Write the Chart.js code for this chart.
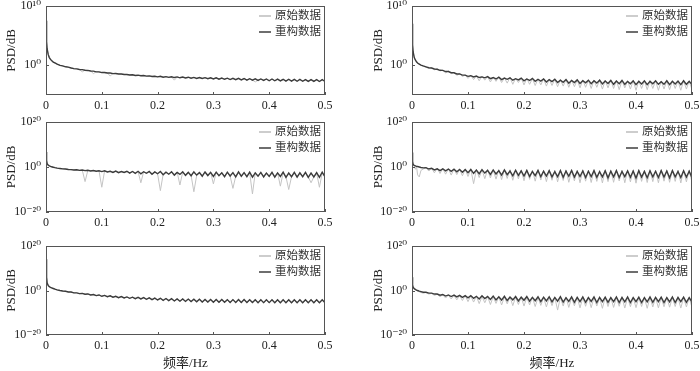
<!DOCTYPE html>
<html>
<head>
<meta charset="utf-8">
<script src="https://cdn.jsdelivr.net/npm/chart.js@4.4.0/dist/chart.umd.min.js"></script>
<style>
  html, body { margin: 0; padding: 0; background: #fff; }
  #wrap { position: relative; width: 700px; height: 371px; overflow: hidden; }
  #wrap canvas { position: absolute; }
</style>
</head>
<body>
<div id="wrap"></div>
<script>
// frequency bins (Hz)
const freq = [0, 0.001, 0.002, 0.004, 0.006, 0.008, 0.01, 0.013, 0.016, 0.02,
  0.025, 0.03, 0.035, 0.04, 0.045, 0.05,
  0.055, 0.06, 0.065, 0.07, 0.075, 0.08, 0.085, 0.09, 0.095, 0.1,
  0.105, 0.11, 0.115, 0.12, 0.125, 0.13, 0.135, 0.14, 0.145, 0.15,
  0.155, 0.16, 0.165, 0.17, 0.175, 0.18, 0.185, 0.19, 0.195, 0.2,
  0.205, 0.21, 0.215, 0.22, 0.225, 0.23, 0.235, 0.24, 0.245, 0.25,
  0.255, 0.26, 0.265, 0.27, 0.275, 0.28, 0.285, 0.29, 0.295, 0.3,
  0.305, 0.31, 0.315, 0.32, 0.325, 0.33, 0.335, 0.34, 0.345, 0.35,
  0.355, 0.36, 0.365, 0.37, 0.375, 0.38, 0.385, 0.39, 0.395, 0.4,
  0.405, 0.41, 0.415, 0.42, 0.425, 0.43, 0.435, 0.44, 0.445, 0.45,
  0.455, 0.46, 0.465, 0.47, 0.475, 0.48, 0.485, 0.49, 0.495, 0.5];

const xTickValues = [0, 0.1, 0.2, 0.3, 0.4, 0.5];
const xTickLabels = ['0', '0.1', '0.2', '0.3', '0.4', '0.5'];
const seriesNames = ['原始数据', '重构数据'];

const yTicksTop = [1, 1e10];
const yTickLabelsTop = ['10⁰', '10¹⁰'];
const yTicksLow = [1e-20, 1, 1e20];
const yTickLabelsLow = ['10⁻²⁰', '10⁰', '10²⁰'];

// PSD values as powers of ten
const p1Orig = [7.6, 4.1, 2.7, 1.9, 1.2, 1.05, 0.75, 0.6, 0.35, 0.2,
  0.05, -0.15, -0.2, -0.35, -0.4, -0.6,
  -0.58, -0.72, -1.1, -0.8, -0.88, -0.94, -1.4, -1.05, -1.12, -1.2,
  -1.25, -1.28, -1.8, -1.38, -1.4, -1.45, -1.48, -1.52, -1.56, -1.6,
  -1.62, -1.68, -1.7, -1.74, -1.74, -1.8, -1.8, -1.86, -1.86, -1.92,
  -1.9, -1.97, -1.93, -2.0, -1.96, -2.5, -1.98, -2.06, -2.02, -2.1,
  -2.05, -2.14, -2.06, -2.18, -2.08, -2.2, -2.1, -2.22, -2.13, -2.26,
  -2.14, -2.3, -2.18, -2.32, -2.2, -2.36, -2.22, -2.4, -2.24, -2.42,
  -2.25, -2.46, -2.28, -2.48, -2.8, -2.5, -2.32, -2.52, -2.33, -2.56,
  -2.34, -2.58, -2.36, -2.6, -2.38, -2.62, -2.38, -2.64, -2.4, -2.65,
  -2.41, -2.66, -2.42, -2.68, -2.43, -2.68, -2.44, -2.7, -2.44, -2.7];
const p1Recon = [7.5, 4.0, 2.8, 1.8, 1.3, 1.0, 0.8, 0.55, 0.4, 0.2,
  0.0, -0.1, -0.25, -0.3, -0.45, -0.55,
  -0.6, -0.7, -0.72, -0.83, -0.86, -0.96, -0.98, -1.1, -1.1, -1.22,
  -1.2, -1.3, -1.3, -1.4, -1.38, -1.47, -1.46, -1.55, -1.54, -1.63,
  -1.58, -1.7, -1.66, -1.76, -1.72, -1.82, -1.78, -1.88, -1.84, -1.95,
  -1.85, -2.0, -1.9, -2.03, -1.93, -2.06, -1.95, -2.1, -1.98, -2.12,
  -2.0, -2.17, -2.03, -2.2, -2.05, -2.22, -2.08, -2.25, -2.1, -2.3,
  -2.1, -2.33, -2.15, -2.35, -2.17, -2.4, -2.2, -2.42, -2.2, -2.45,
  -2.22, -2.5, -2.25, -2.5, -2.27, -2.55, -2.3, -2.55, -2.3, -2.6,
  -2.3, -2.6, -2.33, -2.62, -2.35, -2.65, -2.35, -2.65, -2.37, -2.68,
  -2.38, -2.68, -2.4, -2.7, -2.4, -2.7, -2.42, -2.72, -2.42, -2.72];

const p2Orig = [7.1, 3.4, 2.2, 1.4, 0.8, 0.7, 0.3, 0.25, 0.0, -0.15,
  -0.3, -0.5, -0.4, -0.75, -0.6, -0.95,
  -0.8, -1.3, -0.95, -1.4, -1.2, -1.7, -1.35, -1.9, -1.6, -2.2,
  -1.7, -2.4, -1.8, -2.6, -1.85, -2.5, -1.9, -2.8, -2.0, -2.7,
  -2.0, -2.9, -2.1, -3.0, -2.05, -3.2, -2.2, -2.9, -2.15, -3.3,
  -2.2, -3.2, -2.25, -3.4, -2.3, -3.3, -2.25, -3.5, -2.35, -3.4,
  -2.35, -3.6, -2.4, -3.5, -2.4, -3.7, -2.45, -3.6, -2.45, -3.8,
  -2.45, -3.7, -2.5, -3.9, -2.5, -3.7, -2.5, -4.0, -2.55, -3.8,
  -2.5, -3.9, -2.55, -4.1, -2.55, -3.8, -2.6, -4.0, -2.55, -4.2,
  -2.6, -3.9, -2.6, -4.1, -2.6, -3.9, -2.6, -4.2, -2.65, -4.0,
  -2.6, -4.1, -2.6, -3.9, -2.65, -4.2, -2.6, -4.0, -2.65, -4.1];
const p2Recon = [7.0, 3.5, 2.3, 1.3, 0.9, 0.6, 0.4, 0.2, 0.05, -0.1,
  -0.25, -0.4, -0.45, -0.62, -0.66, -0.84,
  -0.85, -1.05, -1.05, -1.25, -1.25, -1.45, -1.45, -1.65, -1.65, -1.85,
  -1.75, -1.95, -1.8, -2.05, -1.95, -2.1, -1.9, -2.25, -2.05, -2.3,
  -2.0, -2.4, -2.15, -2.35, -2.1, -2.5, -2.25, -2.45, -2.15, -2.6,
  -2.3, -2.55, -2.2, -2.7, -2.35, -2.65, -2.3, -2.8, -2.4, -2.75,
  -2.35, -2.9, -2.5, -2.85, -2.4, -3.0, -2.55, -2.9, -2.45, -3.05,
  -2.6, -2.95, -2.5, -3.1, -2.6, -3.0, -2.5, -3.15, -2.65, -3.05,
  -2.55, -3.2, -2.65, -3.1, -2.55, -3.2, -2.7, -3.1, -2.6, -3.25,
  -2.7, -3.15, -2.6, -3.25, -2.7, -3.1, -2.6, -3.2, -2.75, -3.2,
  -2.6, -3.25, -2.7, -3.15, -2.65, -3.25, -2.6, -3.2, -2.7, -3.25];

const p3Orig = [6.8, 2.8, 1.6, 0.7, 0.6, 0.2, 0.15, -0.2, -0.25, -0.55,
  -0.7, -0.8, -0.95, -1.05, -1.2, -1.3,
  -1.25, -1.45, -1.4, -6.5, -1.5, -1.7, -1.6, -1.85, -1.7, -9.0,
  -1.75, -2.15, -1.85, -2.25, -1.9, -2.35, -1.95, -2.45, -2.0, -2.55,
  -1.95, -2.65, -2.05, -7.0, -2.05, -2.85, -2.1, -2.95, -2.1, -3.05,
  -10.5, -3.15, -2.15, -3.25, -2.2, -3.35, -2.2, -8.0, -2.25, -3.55,
  -2.25, -3.65, -11.0, -3.75, -2.3, -3.8, -2.35, -3.85, -2.35, -7.5,
  -2.35, -3.95, -2.4, -4.0, -2.4, -4.05, -9.5, -4.05, -2.45, -4.1,
  -2.45, -4.15, -2.5, -12.0, -2.5, -4.2, -2.5, -4.2, -2.55, -4.25,
  -2.55, -4.25, -2.55, -8.5, -2.55, -4.25, -10.0, -4.35, -2.55, -4.3,
  -2.6, -4.35, -2.55, -4.35, -7.0, -4.4, -2.6, -9.0, -2.6, -4.4];
const p3Recon = [6.7, 3.0, 1.5, 0.8, 0.5, 0.3, 0.1, -0.1, -0.3, -0.5,
  -0.65, -0.85, -0.9, -1.1, -1.15, -1.35,
  -1.2, -1.5, -1.35, -1.6, -1.45, -1.75, -1.55, -1.9, -1.65, -2.05,
  -1.7, -2.2, -1.9, -2.4, -1.8, -2.5, -2.0, -2.4, -1.9, -2.7,
  -2.0, -2.8, -1.9, -3.0, -2.1, -2.8, -2.0, -3.2, -2.2, -3.0,
  -2.0, -3.4, -2.3, -3.2, -2.1, -3.6, -2.4, -3.3, -2.1, -3.7,
  -2.4, -3.9, -2.2, -3.6, -2.5, -4.1, -2.2, -3.8, -2.4, -4.2,
  -2.3, -3.9, -2.6, -4.3, -2.3, -4.0, -2.5, -4.4, -2.2, -4.1,
  -2.5, -4.3, -2.3, -4.5, -2.6, -4.1, -2.4, -4.4, -2.7, -4.2,
  -2.4, -4.5, -2.6, -4.2, -2.3, -4.6, -2.7, -4.3, -2.4, -4.5,
  -2.6, -4.3, -2.4, -4.6, -2.7, -4.4, -2.5, -4.6, -2.3, -4.4];

const p4Orig = [6.6, 2.2, 1.0, 0.2, -1.0, 0.4, -3.5, -4.4, -1.5, -0.9,
  -0.2, -1.8, -0.5, -2.6, -0.6, -2.9,
  -0.7, -3.2, -0.8, -3.6, -0.9, -3.4, -1.0, -3.9, -1.0, -4.2,
  -1.0, -7.4, -1.1, -4.7, -1.2, -5.2, -1.1, -4.9, -1.3, -5.4,
  -1.2, -5.6, -1.3, -5.1, -1.2, -5.9, -1.4, -5.3, -1.3, -6.1,
  -1.3, -5.5, -1.4, -6.3, -1.3, -5.8, -1.5, -6.5, -1.4, -5.9,
  -1.4, -6.6, -1.5, -6.0, -1.4, -6.8, -1.5, -6.2, -1.4, -7.0,
  -1.5, -6.3, -1.4, -6.9, -1.5, -6.4, -1.5, -7.1, -1.4, -6.5,
  -1.5, -6.8, -1.5, -6.2, -1.4, -7.0, -1.5, -6.6, -1.5, -7.2,
  -1.5, -6.4, -1.4, -6.9, -1.5, -6.5, -1.5, -7.0, -1.4, -6.3,
  -1.5, -6.8, -1.5, -6.4, -1.4, -7.1, -1.5, -6.6, -1.4, -6.9];
const p4Recon = [6.5, 2.5, 1.2, 0.7, 0.5, 0.3, 0.2, 0.0, -0.2, -0.4,
  -0.3, -0.9, -0.6, -1.3, -0.8, -1.6,
  -0.8, -1.7, -0.9, -1.9, -1.0, -2.1, -1.1, -2.3, -1.1, -2.5,
  -1.1, -2.8, -1.4, -3.0, -1.2, -2.7, -1.5, -3.3, -1.3, -3.1,
  -1.6, -3.6, -1.3, -3.4, -1.8, -3.9, -1.4, -3.7, -1.7, -4.0,
  -1.5, -4.2, -2.0, -3.8, -1.5, -4.3, -1.9, -4.0, -1.6, -4.4,
  -2.1, -4.3, -1.6, -4.6, -1.8, -4.1, -1.5, -4.5, -2.0, -4.2,
  -1.7, -4.7, -1.9, -4.3, -1.6, -4.6, -2.1, -4.4, -1.7, -4.8,
  -1.9, -4.4, -1.6, -4.7, -2.0, -4.3, -1.7, -4.6, -1.8, -4.9,
  -1.6, -4.5, -2.0, -4.8, -1.7, -4.4, -1.9, -4.7, -1.6, -4.5,
  -1.8, -4.8, -1.6, -4.4, -2.0, -4.7, -1.7, -4.5, -1.9, -4.8];

const p5Orig = [14.2, 5.8, 3.6, 2.1, 1.8, 1.3, 1.25, 0.85, 0.65, 0.25,
  0.05, -0.3, -0.3, -0.7, -0.65, -1.1,
  -1.0, -1.45, -1.25, -1.75, -1.5, -2.1, -1.75, -2.35, -1.95, -2.7,
  -2.15, -2.9, -2.35, -3.1, -2.55, -3.3, -2.7, -3.45, -2.85, -3.6,
  -2.95, -3.8, -3.05, -3.9, -3.15, -4.1, -3.25, -4.2, -3.35, -4.4,
  -3.45, -4.5, -3.55, -4.7, -3.65, -4.8, -3.7, -5.0, -3.75, -5.0,
  -3.8, -5.2, -3.85, -5.2, -3.9, -5.3, -3.95, -5.4, -3.95, -5.4,
  -4.0, -5.5, -4.0, -5.4, -4.05, -5.6, -4.05, -5.5, -4.05, -5.6,
  -4.05, -5.5, -4.1, -5.6, -4.1, -5.6, -4.1, -5.7, -4.15, -5.6,
  -4.15, -5.6, -4.1, -5.7, -4.15, -5.6, -4.15, -5.7, -4.15, -5.6,
  -4.15, -5.7, -4.15, -5.6, -4.15, -5.7, -4.15, -5.6, -4.2, -5.7];
const p5Recon = [14, 6, 3.5, 2.2, 1.7, 1.4, 1.2, 0.9, 0.6, 0.3,
  0.0, -0.25, -0.35, -0.65, -0.7, -1.05,
  -1.05, -1.4, -1.3, -1.7, -1.55, -2.0, -1.8, -2.3, -2.0, -2.6,
  -2.2, -2.8, -2.4, -3.0, -2.6, -3.2, -2.75, -3.35, -2.9, -3.5,
  -3.0, -3.65, -3.1, -3.8, -3.2, -3.95, -3.3, -4.1, -3.4, -4.25,
  -3.5, -4.4, -3.6, -4.55, -3.7, -4.7, -3.75, -4.8, -3.8, -4.9,
  -3.85, -5.0, -3.9, -5.1, -3.95, -5.15, -4.0, -5.2, -4.0, -5.25,
  -4.05, -5.3, -4.05, -5.3, -4.1, -5.35, -4.1, -5.35, -4.1, -5.4,
  -4.1, -5.4, -4.15, -5.4, -4.15, -5.45, -4.15, -5.45, -4.2, -5.45,
  -4.2, -5.5, -4.2, -5.5, -4.2, -5.5, -4.2, -5.5, -4.2, -5.5,
  -4.2, -5.5, -4.2, -5.5, -4.2, -5.5, -4.2, -5.5, -4.2, -5.5];

const p6Orig = [6.1, 2.3, 1.4, 0.6, 0.3, 0.1, -0.3, -0.6, -0.9, -1.2,
  -0.9, -1.6, -1.3, -2.2, -1.7, -2.8,
  -1.9, -3.4, -2.1, -3.8, -2.2, -4.2, -2.3, -4.5, -2.4, -5.0,
  -2.5, -5.2, -2.6, -5.9, -2.7, -5.5, -2.7, -6.3, -2.8, -5.8,
  -2.8, -6.5, -2.9, -6.0, -2.9, -6.8, -3.0, -6.3, -3.0, -7.0,
  -3.0, -6.5, -3.0, -7.2, -3.1, -6.7, -3.1, -7.4, -3.1, -6.8,
  -3.1, -8.8, -3.1, -7.0, -3.1, -7.6, -3.2, -6.9, -3.1, -7.8,
  -3.2, -7.1, -3.1, -7.7, -3.2, -7.0, -3.2, -8.0, -3.1, -7.2,
  -3.2, -7.6, -3.2, -7.1, -3.2, -7.9, -3.1, -7.3, -3.2, -7.7,
  -3.2, -7.2, -3.2, -8.0, -3.2, -7.4, -3.2, -7.8, -3.2, -7.3,
  -3.2, -7.5, -3.2, -7.2, -3.2, -7.9, -3.2, -7.4, -3.2, -7.6];
const p6Recon = [6.0, 2.5, 1.5, 0.8, 0.5, 0.2, 0.0, -0.3, -0.5, -0.8,
  -0.8, -1.2, -1.2, -1.6, -1.6, -2.1,
  -1.8, -2.5, -2.0, -2.7, -2.1, -2.9, -2.2, -3.1, -2.3, -3.3,
  -2.3, -3.5, -2.6, -3.8, -2.4, -3.6, -2.7, -4.0, -2.5, -4.2,
  -2.8, -4.3, -2.6, -4.5, -2.9, -4.2, -2.7, -4.7, -3.0, -4.4,
  -2.7, -4.8, -3.1, -4.6, -2.8, -5.0, -3.0, -4.7, -2.8, -5.1,
  -3.1, -4.8, -2.8, -5.2, -3.2, -4.9, -2.9, -5.3, -3.1, -5.0,
  -2.9, -5.3, -3.2, -4.9, -2.9, -5.4, -3.1, -5.0, -3.0, -5.3,
  -3.2, -5.0, -2.9, -5.4, -3.1, -5.1, -2.9, -5.4, -3.2, -5.0,
  -3.0, -5.4, -3.2, -5.1, -2.9, -5.3, -3.1, -5.0, -3.0, -5.4,
  -3.2, -5.1, -2.9, -5.4, -3.1, -5.0, -3.0, -5.3, -3.2, -5.2];

const SERIF = "'Liberation Serif', 'DejaVu Serif', 'Noto Sans CJK SC', serif";
const MIXED = "'Liberation Serif', 'Noto Sans CJK SC', serif";

const cols = [
  { left: 0, padL: 0, padR: 25, yW: 46 },
  { left: 350, padL: 17, padR: 8, yW: 45 }
];
const rows = [
  { top: 0, h: 115, xH: 20, title: false },
  { top: 116, h: 116, xH: 20, title: false },
  { top: 240, h: 131, xH: 36, title: true }
];

const panels = [
  { col: 0, row: 0, orig: p1Orig, recon: p1Recon, min: 1e-5, max: 1e10, ticks: yTicksTop, labels: yTickLabelsTop },
  { col: 1, row: 0, orig: p2Orig, recon: p2Recon, min: 1e-5, max: 1e10, ticks: yTicksTop, labels: yTickLabelsTop },
  { col: 0, row: 1, orig: p3Orig, recon: p3Recon, min: 1e-20, max: 1e20, ticks: yTicksLow, labels: yTickLabelsLow },
  { col: 1, row: 1, orig: p4Orig, recon: p4Recon, min: 1e-20, max: 1e20, ticks: yTicksLow, labels: yTickLabelsLow },
  { col: 0, row: 2, orig: p5Orig, recon: p5Recon, min: 1e-20, max: 1e20, ticks: yTicksLow, labels: yTickLabelsLow },
  { col: 1, row: 2, orig: p6Orig, recon: p6Recon, min: 1e-20, max: 1e20, ticks: yTicksLow, labels: yTickLabelsLow }
];

// frame, inward ticks and the little legend inside the plot
const framePlugin = {
  id: 'frame',
  afterDatasetsDraw(chart) {
    const { ctx, chartArea: a, scales } = chart;
    ctx.save();
    ctx.strokeStyle = '#555';
    ctx.lineWidth = 1;
    ctx.strokeRect(a.left + 0.5, a.top + 0.5, a.width - 1, a.height - 1);
    ctx.beginPath();
    scales.x.ticks.forEach(t => {
      const px = Math.round(scales.x.getPixelForValue(t.value)) + 0.5;
      ctx.moveTo(px, a.bottom);
      ctx.lineTo(px, a.bottom - 3);
    });
    scales.y.ticks.forEach(t => {
      const py = Math.round(scales.y.getPixelForValue(t.value)) + 0.5;
      ctx.moveTo(a.left, py);
      ctx.lineTo(a.left + 3, py);
    });
    ctx.stroke();

    ctx.font = '11.5px ' + MIXED;
    ctx.textAlign = 'right';
    ctx.textBaseline = 'middle';
    chart.data.datasets.forEach((ds, i) => {
      const y = a.top + 10 + i * 16;
      const tx = a.right - 4;
      const w = ctx.measureText(ds.label).width;
      ctx.fillStyle = '#333';
      ctx.fillText(ds.label, tx, y);
      ctx.strokeStyle = ds.legendColor;
      ctx.lineWidth = ds.legendWidth;
      ctx.beginPath();
      ctx.moveTo(tx - w - 16, y);
      ctx.lineTo(tx - w - 4, y);
      ctx.stroke();
    });
    ctx.restore();
  }
};

const wrap = document.getElementById('wrap');

panels.forEach(p => {
  const c = cols[p.col];
  const r = rows[p.row];
  const canvas = document.createElement('canvas');
  canvas.width = 350;
  canvas.height = r.h;
  canvas.style.left = c.left + 'px';
  canvas.style.top = r.top + 'px';
  wrap.appendChild(canvas);

  const toPts = arr => arr.map((e, i) => ({ x: freq[i], y: Math.pow(10, e) }));

  new Chart(canvas.getContext('2d'), {
    type: 'line',
    data: {
      datasets: [
        {
          label: seriesNames[0],
          data: toPts(p.orig),
          borderColor: '#c4c4c4',
          borderWidth: 1,
          legendColor: '#bdbdbd',
          legendWidth: 1.5,
          pointRadius: 0,
          order: 1
        },
        {
          label: seriesNames[1],
          data: toPts(p.recon),
          borderColor: '#3c3c3c',
          borderWidth: 1.4,
          legendColor: '#6e6e6e',
          legendWidth: 2,
          pointRadius: 0,
          order: 0
        }
      ]
    },
    options: {
      responsive: false,
      animation: false,
      devicePixelRatio: 1,
      layout: { padding: { left: c.padL, right: c.padR, top: 6, bottom: 0 } },
      plugins: { legend: { display: false }, tooltip: { enabled: false } },
      elements: { line: { tension: 0 } },
      scales: {
        x: {
          type: 'linear',
          min: 0,
          max: 0.5,
          grid: { display: false, drawTicks: false },
          border: { display: false },
          ticks: {
            autoSkip: false,
            maxRotation: 0,
            padding: 4,
            color: '#222',
            font: { family: SERIF, size: 12 },
            callback: (v, i) => xTickLabels[i]
          },
          afterBuildTicks: s => { s.ticks = xTickValues.map(v => ({ value: v })); },
          afterFit: s => { s.height = r.xH; s.paddingLeft = 0; s.paddingRight = 0; },
          title: {
            display: r.title,
            text: '频率/Hz',
            color: '#222',
            padding: { top: 0, bottom: 0 },
            font: { family: MIXED, size: 13 }
          }
        },
        y: {
          type: 'logarithmic',
          min: p.min,
          max: p.max,
          bounds: 'data',
          grid: { display: false, drawTicks: false },
          border: { display: false },
          ticks: {
            autoSkip: false,
            padding: 5,
            color: '#222',
            font: { family: SERIF, size: 12 },
            callback: (v, i) => p.labels[i]
          },
          afterBuildTicks: s => { s.ticks = p.ticks.map(v => ({ value: v })); },
          afterFit: s => { s.width = c.yW; s.paddingTop = 0; s.paddingBottom = 0; },
          title: {
            display: true,
            text: 'PSD/dB',
            color: '#222',
            padding: { top: 4, bottom: 4 },
            font: { family: SERIF, size: 13 }
          }
        }
      }
    },
    plugins: [framePlugin]
  });
});
</script>
</body>
</html>
